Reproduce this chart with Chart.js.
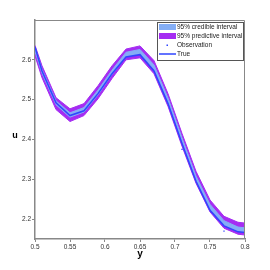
<!DOCTYPE html>
<html>
<head>
<meta charset="utf-8">
<script src="https://cdn.jsdelivr.net/npm/chart.js@4.4.1/dist/chart.umd.min.js"></script>
<style>
  html, body { margin: 0; padding: 0; background: #fff; }
  #wrap { width: 270px; height: 270px; position: relative; }
</style>
</head>
<body>
<div id="wrap"><canvas id="c"></canvas></div>
<script>
const xs = [0.5, 0.51, 0.53, 0.55, 0.57, 0.59, 0.61, 0.63, 0.65, 0.67, 0.69, 0.71, 0.73, 0.75, 0.77, 0.79, 0.8];
const trueU = [2.632, 2.572, 2.492, 2.460, 2.472, 2.515, 2.565, 2.607, 2.613, 2.572, 2.490, 2.390, 2.295, 2.222, 2.183, 2.168, 2.166];
const predUpper = [2.636, 2.585, 2.505, 2.477, 2.490, 2.535, 2.585, 2.627, 2.635, 2.598, 2.515, 2.415, 2.320, 2.248, 2.207, 2.192, 2.190];
const predLower = [2.610, 2.555, 2.475, 2.445, 2.460, 2.502, 2.553, 2.600, 2.605, 2.565, 2.483, 2.383, 2.290, 2.218, 2.177, 2.162, 2.160];
const credUpper = [2.630, 2.576, 2.497, 2.467, 2.480, 2.524, 2.574, 2.619, 2.626, 2.587, 2.504, 2.404, 2.308, 2.237, 2.196, 2.180, 2.178];
const credLower = [2.621, 2.566, 2.487, 2.456, 2.469, 2.512, 2.563, 2.608, 2.615, 2.576, 2.493, 2.393, 2.298, 2.226, 2.185, 2.170, 2.168];
const obsX = [0.71, 0.77];
const obsU = [2.375, 2.170];
const xTicks = [0.5, 0.55, 0.6, 0.65, 0.7, 0.75, 0.8];
const yTicks = [2.2, 2.3, 2.4, 2.5, 2.6];
const legendLabels = ["95% credible interval", "95% predictive interval", "Observation", "True"];

const purple = "#a52cf2";
const lightBlue = "#84aef6";
const blue = "#2f45ff";
const font = "'Liberation Sans', Arial, sans-serif";

// the original uses a narrow helvetica; use the narrow face if it is there
let narrow = "'Liberation Sans Narrow', " + font;
let smallSize = 8;
(function() {
    const ctx = document.createElement("canvas").getContext("2d");
    ctx.font = "8px " + narrow;
    const w = ctx.measureText(legendLabels[1]).width;
    if (w > 70) {
        narrow = font;
        smallSize = 6.5;
    }
})();

function pts(ys) {
    return xs.map((x, i) => ({ x: x, y: ys[i] }));
}

// higher order is drawn underneath
const band = (ys, color, fill, order) => ({
    data: pts(ys),
    borderColor: color,
    borderWidth: 1,
    backgroundColor: color,
    pointRadius: 0,
    fill: fill,
    tension: 0,
    order: order
});

const boxPlugin = {
    id: "boxLegend",
    afterDraw(chart) {
        const ctx = chart.ctx;
        const a = chart.chartArea;
        ctx.save();
        ctx.strokeStyle = "#888";
        ctx.lineWidth = 1;
        ctx.beginPath();
        ctx.moveTo(a.left, a.top + 0.5);
        ctx.lineTo(a.right - 0.5, a.top + 0.5);
        ctx.lineTo(a.right - 0.5, a.bottom);
        ctx.stroke();

        // y label, upright like the original
        ctx.fillStyle = "#000";
        ctx.font = "bold 9px " + font;
        ctx.textAlign = "center";
        ctx.textBaseline = "middle";
        ctx.fillText("u", 15, 136);
        ctx.textAlign = "left";

        // legend
        const lx = 157, ly = 22, lw = 86, lh = 38;
        ctx.fillStyle = "#fff";
        ctx.fillRect(lx, ly, lw, lh);
        ctx.strokeStyle = "#555";
        ctx.strokeRect(lx + 0.5, ly + 0.5, lw, lh);
        const rows = [27, 36, 45, 54];
        ctx.fillStyle = lightBlue;
        ctx.fillRect(159, rows[0] - 3, 17, 6);
        ctx.fillStyle = purple;
        ctx.fillRect(159, rows[1] - 3, 17, 6);
        ctx.fillStyle = blue;
        ctx.fillRect(166.5, rows[2] - 0.5, 1.5, 1.5);
        ctx.strokeStyle = blue;
        ctx.lineWidth = 1.5;
        ctx.beginPath();
        ctx.moveTo(159, rows[3]);
        ctx.lineTo(176, rows[3]);
        ctx.stroke();
        ctx.fillStyle = "#222";
        ctx.font = smallSize + "px " + narrow;
        ctx.textBaseline = "middle";
        legendLabels.forEach((t, i) => ctx.fillText(t, 177, rows[i] + 0.5));
        ctx.restore();
    }
};

new Chart(document.getElementById("c"), {
    type: "line",
    data: {
        datasets: [
            band(predUpper, purple, "+1", 6),
            band(predLower, purple, false, 5),
            band(credUpper, lightBlue, "+1", 4),
            band(credLower, lightBlue, false, 3),
            {
                data: pts(trueU),
                borderColor: blue,
                borderWidth: 1.5,
                pointRadius: 0,
                fill: false,
                tension: 0,
                order: 2
            },
            {
                type: "scatter",
                data: obsX.map((x, i) => ({ x: x, y: obsU[i] })),
                backgroundColor: blue,
                borderWidth: 0,
                pointRadius: 0.9,
                pointStyle: "rect",
                order: 1
            }
        ]
    },
    plugins: [boxPlugin],
    options: {
        responsive: true,
        maintainAspectRatio: false,
        animation: false,
        layout: { padding: { left: 0, right: 25, top: 20, bottom: 10 } },
        plugins: {
            legend: { display: false },
            tooltip: { enabled: false }
        },
        scales: {
            x: {
                type: "linear",
                min: 0.5,
                max: 0.8,
                afterBuildTicks: (s) => { s.ticks = xTicks.map(v => ({ value: v })); },
                afterFit: (s) => { s.height = 21; },
                border: { color: "#888", width: 1.5 },
                grid: { drawOnChartArea: false, tickLength: 3, color: "#888" },
                ticks: {
                    color: "#333",
                    padding: 1,
                    maxRotation: 0,
                    font: { family: narrow, size: smallSize },
                    callback: (v) => String(v)
                },
                title: {
                    display: true,
                    text: "y",
                    color: "#000",
                    padding: { top: 0, bottom: 0 },
                    font: { family: font, size: 10, weight: "bold" }
                }
            },
            y: {
                min: 2.15,
                max: 2.7,
                afterBuildTicks: (s) => { s.ticks = yTicks.map(v => ({ value: v })); },
                afterFit: (s) => { s.width = 35; },
                border: { color: "#888", width: 1.5 },
                grid: { drawOnChartArea: false, tickLength: 3, color: "#888" },
                ticks: {
                    color: "#333",
                    padding: 1,
                    font: { family: narrow, size: smallSize },
                    callback: (v) => v.toFixed(1)
                }
            }
        }
    }
});
</script>
</body>
</html>
